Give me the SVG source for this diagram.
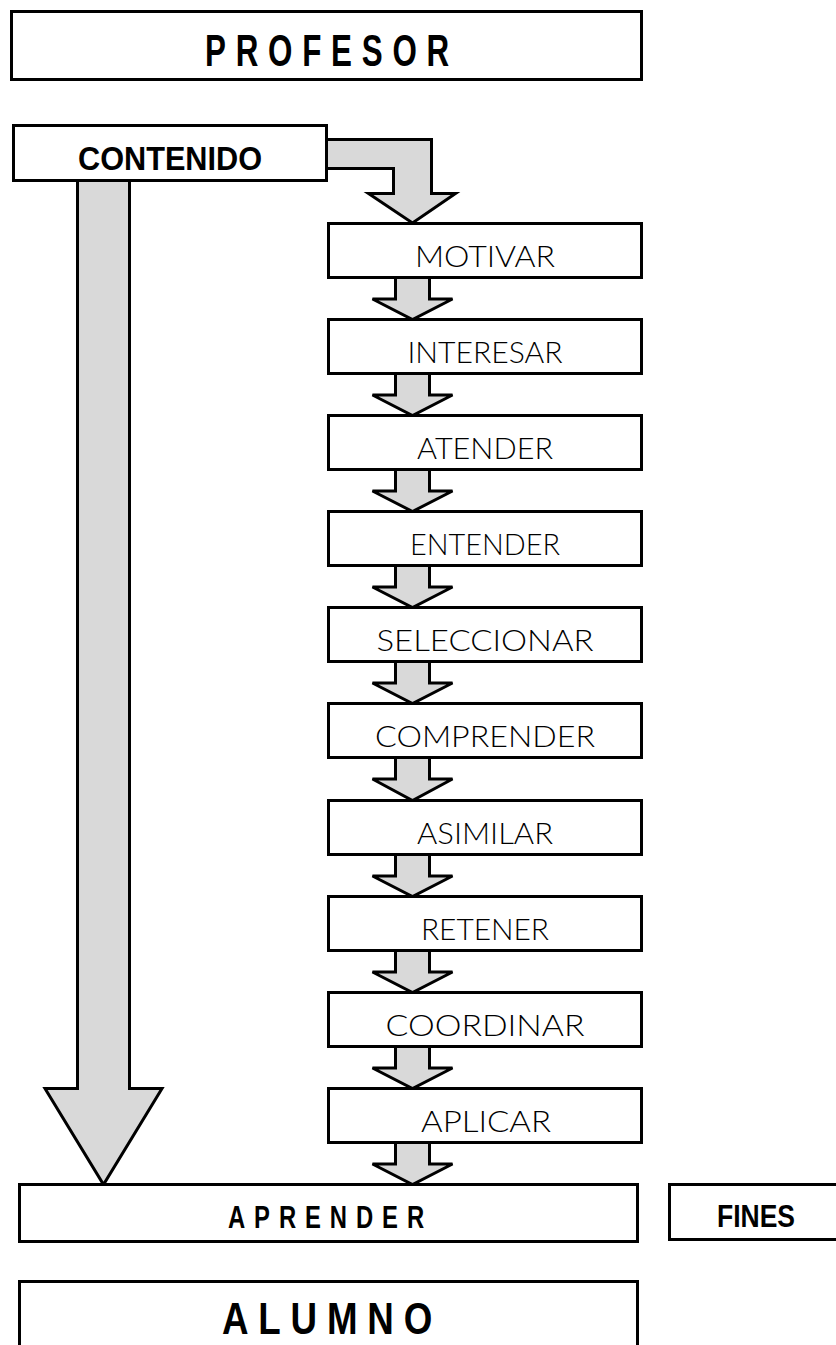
<svg xmlns="http://www.w3.org/2000/svg" width="836" height="1345" viewBox="0 0 836 1345">
  <style>
    .box { fill: #ffffff; stroke: #000000; stroke-width: 3; }
    .arrow { fill: #d9d9d9; stroke: #000000; stroke-width: 3; stroke-linejoin: miter; }
    .step { font-family: Lato, "Liberation Sans", sans-serif; font-weight: 300; font-size: 30px; fill: #000; text-anchor: middle; }
    .title { font-family: "Liberation Sans", Arial, sans-serif; font-weight: bold; fill: #000; }
  </style>
  <rect width="836" height="1345" fill="#ffffff"/>

  <!-- connectors: block arrows, drawn beneath the boxes -->
  <g id="connectors">
    <!-- CONTENIDO straight down to APRENDER -->
    <polygon class="arrow" points="77.5,175 129.5,175 129.5,1088.5 162,1088.5 103.5,1184.5 45,1088.5 77.5,1088.5"/>
    <!-- CONTENIDO bent over to MOTIVAR -->
    <polygon class="arrow" points="320,139.5 431.5,139.5 431.5,193.5 455.5,193.5 412.5,223 368.5,193.5 393.5,193.5 393.5,168.5 320,168.5"/>
    <!-- chain of steps -->
    <polygon class="arrow" points="395.5,272 429.5,272 429.5,299 452.5,299 412.5,319.5 372.5,299 395.5,299"/>
    <polygon class="arrow" points="395.5,368 429.5,368 429.5,395 452.5,395 412.5,415.5 372.5,395 395.5,395"/>
    <polygon class="arrow" points="395.5,464 429.5,464 429.5,491 452.5,491 412.5,511.5 372.5,491 395.5,491"/>
    <polygon class="arrow" points="395.5,560 429.5,560 429.5,587 452.5,587 412.5,607.5 372.5,587 395.5,587"/>
    <polygon class="arrow" points="395.5,656 429.5,656 429.5,683 452.5,683 412.5,703.5 372.5,683 395.5,683"/>
    <polygon class="arrow" points="395.5,752 429.5,752 429.5,779 452.5,779 412.5,800.5 372.5,779 395.5,779"/>
    <polygon class="arrow" points="395.5,849 429.5,849 429.5,876 452.5,876 412.5,896.5 372.5,876 395.5,876"/>
    <polygon class="arrow" points="395.5,945 429.5,945 429.5,972 452.5,972 412.5,992.5 372.5,972 395.5,972"/>
    <polygon class="arrow" points="395.5,1041 429.5,1041 429.5,1068 452.5,1068 412.5,1088.5 372.5,1068 395.5,1068"/>
    <polygon class="arrow" points="395.5,1137 429.5,1137 429.5,1164 452.5,1164 412.5,1184.5 372.5,1164 395.5,1164"/>
  </g>

  <g id="profesor">
    <rect class="box" x="11.5" y="11.5" width="630" height="68"/>
    <text class="title" x="205" y="66" font-size="45" letter-spacing="14" textLength="254" lengthAdjust="spacingAndGlyphs">PROFESOR</text>
  </g>

  <g id="contenido">
    <rect class="box" x="13.5" y="125.5" width="313" height="55"/>
    <text class="title" x="78" y="170" font-size="33" textLength="184" lengthAdjust="spacingAndGlyphs">CONTENIDO</text>
  </g>

  <g id="motivar">
    <rect class="box" x="328.5" y="223.5" width="313" height="54"/>
    <text class="step" x="485" y="267" textLength="140" lengthAdjust="spacingAndGlyphs">MOTIVAR</text>
  </g>
  <g id="interesar">
    <rect class="box" x="328.5" y="319.5" width="313" height="54"/>
    <text class="step" x="485" y="363" textLength="155" lengthAdjust="spacingAndGlyphs">INTERESAR</text>
  </g>
  <g id="atender">
    <rect class="box" x="328.5" y="415.5" width="313" height="54"/>
    <text class="step" x="485" y="459" textLength="136" lengthAdjust="spacingAndGlyphs">ATENDER</text>
  </g>
  <g id="entender">
    <rect class="box" x="328.5" y="511.5" width="313" height="54"/>
    <text class="step" x="485" y="555" textLength="150" lengthAdjust="spacingAndGlyphs">ENTENDER</text>
  </g>
  <g id="seleccionar">
    <rect class="box" x="328.5" y="607.5" width="313" height="54"/>
    <text class="step" x="485" y="651" textLength="217" lengthAdjust="spacingAndGlyphs">SELECCIONAR</text>
  </g>
  <g id="comprender">
    <rect class="box" x="328.5" y="703.5" width="313" height="54"/>
    <text class="step" x="485" y="747" textLength="220" lengthAdjust="spacingAndGlyphs">COMPRENDER</text>
  </g>
  <g id="asimilar">
    <rect class="box" x="328.5" y="800.5" width="313" height="54"/>
    <text class="step" x="485" y="844" textLength="136" lengthAdjust="spacingAndGlyphs">ASIMILAR</text>
  </g>
  <g id="retener">
    <rect class="box" x="328.5" y="896.5" width="313" height="54"/>
    <text class="step" x="485" y="940" textLength="128" lengthAdjust="spacingAndGlyphs">RETENER</text>
  </g>
  <g id="coordinar">
    <rect class="box" x="328.5" y="992.5" width="313" height="54"/>
    <text class="step" x="485" y="1036" textLength="199" lengthAdjust="spacingAndGlyphs">COORDINAR</text>
  </g>
  <g id="aplicar">
    <rect class="box" x="328.5" y="1088.5" width="313" height="54"/>
    <text class="step" x="486" y="1132" textLength="130" lengthAdjust="spacingAndGlyphs">APLICAR</text>
  </g>

  <g id="aprender">
    <rect class="box" x="19.5" y="1184.5" width="618" height="57"/>
    <text class="title" x="228" y="1228" font-size="32" letter-spacing="12" textLength="205" lengthAdjust="spacingAndGlyphs">APRENDER</text>
  </g>

  <g id="fines">
    <rect class="box" x="669.5" y="1184.5" width="200" height="55"/>
    <text class="title" x="717" y="1227" font-size="31" textLength="78" lengthAdjust="spacingAndGlyphs">FINES</text>
  </g>

  <g id="alumno">
    <rect class="box" x="19.5" y="1281.5" width="618" height="100"/>
    <text class="title" x="222" y="1334" font-size="45" letter-spacing="12" textLength="220" lengthAdjust="spacingAndGlyphs">ALUMNO</text>
  </g>
</svg>
